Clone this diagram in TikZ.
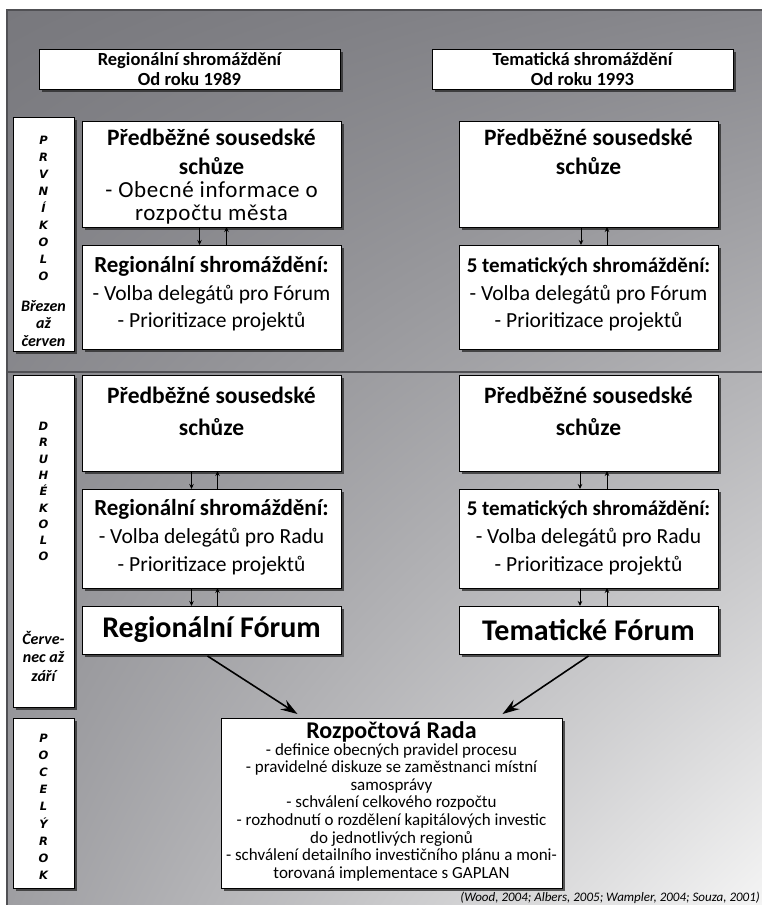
\documentclass[tikz,border=0pt]{standalone}
\usepackage{fontspec}
\setmainfont{Carlito}
\newfontfamily\verd{DejaVu Sans}
\newfontfamily\spacedfont[LetterSpace=3]{Carlito}
\usetikzlibrary{shadows,arrows.meta,shadings}
\definecolor{bgA}{RGB}{120,120,125}
\definecolor{bgB}{RGB}{136,136,141}
\definecolor{bgC}{RGB}{158,158,162}
\definecolor{bgD}{RGB}{244,244,244}
\definecolor{panelln}{RGB}{80,80,84}
\tikzset{
  box/.style={draw=black, line width=0.8pt, fill=white, anchor=north west,
    inner sep=0pt, outer sep=0pt,
    drop shadow={shadow xshift=2.5pt, shadow yshift=-2.5pt, opacity=0.75, fill=black!85}},
  hdtext/.style={align=center, font=\bfseries\fontsize{18.5}{20}\selectfont},
  sidetext/.style={align=center, inner sep=0pt, font=\verd\bfseries\itshape\fontsize{11.5}{#1}\selectfont},
  monthtext/.style={align=center, inner sep=0pt, font=\bfseries\itshape\fontsize{16}{#1}\selectfont},
  sarrow/.style={line width=0.9pt, -{Stealth[length=5pt,width=4.5pt]}},
  barrow/.style={line width=1.6pt, -{Stealth[length=17pt,width=11pt,inset=6pt]}},
  panelline/.style={draw=panelln, line width=1.4pt},
  forum/.style={font=\bfseries\fontsize{30}{32}\selectfont},
  txt/.style={anchor=base, inner sep=0pt}
}
\newcommand{\fttl}{\bfseries\fontsize{23.5}{30}\selectfont}
\newcommand{\fbodyA}{\spacedfont\fontsize{23}{26}\selectfont}
\newcommand{\fttlb}{\bfseries\fontsize{23}{27}\selectfont}
\newcommand{\fttlc}{\bfseries\fontsize{21}{27}\selectfont}
\newcommand{\fbody}{\fontsize{21.5}{26}\selectfont}
\newcommand{\fradt}{\bfseries\fontsize{24}{26}\selectfont}
\newcommand{\fradb}{\fontsize{17}{18}\selectfont}
\newcommand{\txtline}[5]{\node[txt, font=#4] (#1) at (#2,#3) {#5};}
\begin{document}
\begin{tikzpicture}[x=1pt,y=-1pt]
\useasboundingbox (0,0) rectangle (762,905);
\shade[upper left=bgA, upper right=bgB, lower left=bgC, lower right=bgD] (7,10) rectangle (762,905);
\draw[panelline] (7,905) -- (7,10) -- (762,10);
\draw[panelline] (7,372) -- (762,372);

% headers
\node[box, minimum width=301pt, minimum height=40pt, hdtext] (hl) at (39,49) {Regionální shromáždění\\Od roku 1989};
\node[box, minimum width=301pt, minimum height=40pt, hdtext] (hr) at (432,49) {Tematická shromáždění\\Od roku 1993};

% side boxes
\node[box, minimum width=61pt, minimum height=234pt] (s1) at (13,117) {};
\node[box, minimum width=61pt, minimum height=332pt] (s2) at (13,375) {};
\node[box, minimum width=61pt, minimum height=170pt] (s3) at (13,718) {};
\node[sidetext=17, anchor=north] (s1t) at (43.5,136) {P\\R\\V\\N\\Í\\K\\O\\L\\O};
\node[monthtext=17.5, anchor=north] (s1m) at (43.5,300) {Březen\\až\\červen};
\node[sidetext=16.3, anchor=north] (s2t) at (43.5,422) {D\\R\\U\\H\\É\\K\\O\\L\\O};
\node[monthtext=18.5, anchor=north] (s2m) at (43.5,631) {Červe-\\nec až\\září};
\node[sidetext=17.1, anchor=north] (s3t) at (43.5,734) {P\\O\\C\\E\\L\\Ý\\R\\O\\K};

% boxes
\node[box, minimum width=259pt, minimum height=106pt] (la) at (82,121) {};
\node[box, minimum width=259pt, minimum height=104pt] (lb) at (82,245) {};
\node[box, minimum width=259pt, minimum height=106pt] (ra) at (459,121) {};
\node[box, minimum width=259pt, minimum height=104pt] (rb) at (459,245) {};
\node[box, minimum width=259pt, minimum height=96pt] (lc) at (82,375) {};
\node[box, minimum width=259pt, minimum height=99pt] (ld) at (82,489) {};
\node[box, minimum width=259pt, minimum height=48pt, forum] (lf) at (82,606) {Regionální Fórum};
\node[box, minimum width=259pt, minimum height=96pt] (rc) at (459,375) {};
\node[box, minimum width=259pt, minimum height=99pt] (rd) at (459,489) {};
\node[box, minimum width=259pt, minimum height=48pt, forum] (rf) at (459,606) {Tematické Fórum};
\node[box, minimum width=341pt, minimum height=170pt] (rada) at (221,718) {};

% texts, round 1 left
\txtline{la1}{211.5}{145}{\fttl}{Předběžné sousedské}
\txtline{la2}{211.5}{174}{\fttl}{schůze}
\txtline{la3}{211.5}{197}{\fbodyA}{- Obecné informace o}
\txtline{la4}{211.5}{220}{\fbodyA}{rozpočtu města}
\txtline{lb1}{211.5}{272}{\fttlb}{Regionální shromáždění:}
\txtline{lb2}{211.5}{300}{\fbody}{- Volba delegátů pro Fórum}
\txtline{lb3}{211.5}{327}{\fbody}{- Prioritizace projektů}
% round 1 right
\txtline{ra1}{588.5}{145}{\fttl}{Předběžné sousedské}
\txtline{ra2}{588.5}{174}{\fttl}{schůze}
\txtline{rb1}{588.5}{272}{\fttlc}{5 tematických shromáždění:}
\txtline{rb2}{588.5}{300}{\fbody}{- Volba delegátů pro Fórum}
\txtline{rb3}{588.5}{327}{\fbody}{- Prioritizace projektů}
% round 2 left
\txtline{lc1}{211.5}{403}{\fttl}{Předběžné sousedské}
\txtline{lc2}{211.5}{435}{\fttl}{schůze}
\txtline{ld1}{211.5}{515}{\fttlb}{Regionální shromáždění:}
\txtline{ld2}{211.5}{543}{\fbody}{- Volba delegátů pro Radu}
\txtline{ld3}{211.5}{571}{\fbody}{- Prioritizace projektů}
% round 2 right
\txtline{rc1}{588.5}{403}{\fttl}{Předběžné sousedské}
\txtline{rc2}{588.5}{435}{\fttl}{schůze}
\txtline{rd1}{588.5}{515}{\fttlc}{5 tematických shromáždění:}
\txtline{rd2}{588.5}{543}{\fbody}{- Volba delegátů pro Radu}
\txtline{rd3}{588.5}{571}{\fbody}{- Prioritizace projektů}
% Rada
\txtline{rt}{391.5}{738}{\fradt}{Rozpočtová Rada}
\txtline{r1}{391.5}{755}{\fradb}{- definice obecných pravidel procesu}
\txtline{r2}{391.5}{772.6}{\fradb}{- pravidelné diskuze se zaměstnanci místní}
\txtline{r3}{391.5}{790.2}{\fradb}{samosprávy}
\txtline{r4}{391.5}{807.8}{\fradb}{- schválení celkového rozpočtu}
\txtline{r5}{391.5}{825.4}{\fradb}{- rozhodnutí o rozdělení kapitálových investic}
\txtline{r6}{391.5}{843}{\fradb}{do jednotlivých regionů}
\txtline{r7}{391.5}{860.6}{\fradb}{- schválení detailního investičního plánu a moni-}
\txtline{r8}{391.5}{878.2}{\fradb}{torovaná implementace s GAPLAN}

% small arrows
\draw[sarrow] ([xshift=-12pt]la.south) -- ([xshift=-12pt]lb.north);
\draw[sarrow] ([xshift=15pt]lb.north) -- ([xshift=15pt]la.south);
\draw[sarrow] ([xshift=-7.5pt]ra.south) -- ([xshift=-7.5pt]rb.north);
\draw[sarrow] ([xshift=18.5pt]rb.north) -- ([xshift=18.5pt]ra.south);
\draw[sarrow] ([xshift=-20pt]lc.south) -- ([xshift=-20pt]ld.north);
\draw[sarrow] ([xshift=6pt]ld.north) -- ([xshift=6pt]lc.south);
\draw[sarrow] ([xshift=-8.5pt]rc.south) -- ([xshift=-8.5pt]rd.north);
\draw[sarrow] ([xshift=18.5pt]rd.north) -- ([xshift=18.5pt]rc.south);
\draw[sarrow] ([xshift=-20pt]ld.south) -- ([xshift=-20pt]lf.north);
\draw[sarrow] ([xshift=6pt]lf.north) -- ([xshift=6pt]ld.south);
\draw[sarrow] ([xshift=-8.5pt]rd.south) -- ([xshift=-8.5pt]rf.north);
\draw[sarrow] ([xshift=18.5pt]rf.north) -- ([xshift=18.5pt]rd.south);

% big arrows
\draw[barrow] ([xshift=-4pt,yshift=-2pt]lf.south) -- ([xshift=-94pt,yshift=4pt]rada.north);
\draw[barrow] ([yshift=-2pt]rf.south) -- ([xshift=111pt,yshift=4pt]rada.north);

% citation
\node[anchor=base east, inner sep=0pt, font=\itshape\fontsize{13}{14}\selectfont] (cite) at (760,901) {(Wood, 2004; Albers, 2005; Wampler, 2004; Souza, 2001)};
\end{tikzpicture}
\end{document}
